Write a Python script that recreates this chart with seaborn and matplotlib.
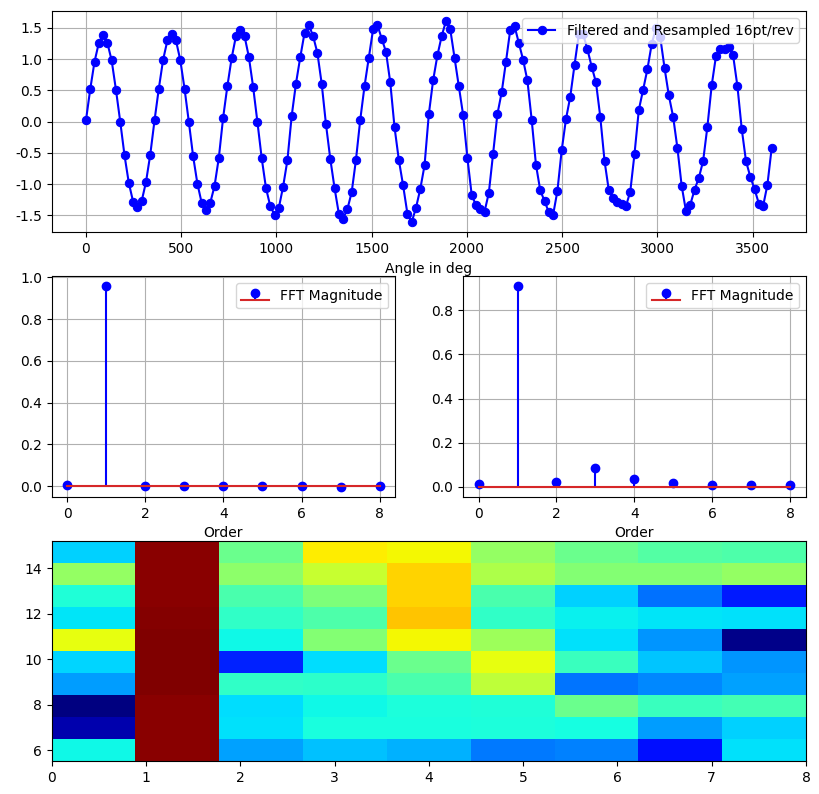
import numpy as np
import pandas as pd
import matplotlib
matplotlib.use("Agg")
import matplotlib.pyplot as plt
import seaborn as sns

plt.rcParams["axes.unicode_minus"] = False

# Resampled signal, 16 points per revolution (22.5 deg step), 10 revolutions
signal = [
    0.02, 0.52, 0.96, 1.26, 1.39, 1.26, 0.98, 0.51,
    0.00, -0.54, -0.98, -1.28, -1.37, -1.27, -0.97, -0.53,
    0.02, 0.53, 0.99, 1.30, 1.41, 1.30, 0.99, 0.53,
    0.00, -0.55, -0.99, -1.30, -1.41, -1.30, -1.03, -0.58,
    0.06, 0.57, 1.02, 1.37, 1.46, 1.37, 1.04, 0.56,
    0.00, -0.58, -1.06, -1.35, -1.49, -1.38, -1.04, -0.62,
    0.09, 0.61, 1.03, 1.42, 1.55, 1.37, 1.10, 0.61,
    -0.04, -0.59, -1.06, -1.47, -1.55, -1.40, -1.13, -0.61,
    0.03, 0.57, 1.02, 1.48, 1.55, 1.33, 1.12, 0.63,
    -0.09, -0.61, -1.02, -1.47, -1.61, -1.38, -1.08, -0.70,
    0.12, 0.66, 1.06, 1.37, 1.61, 1.48, 1.02, 0.57,
    0.11, -0.58, -1.17, -1.34, -1.40, -1.44, -1.14, -0.51,
    0.12, 0.47, 0.96, 1.47, 1.53, 1.26, 0.99, 0.66,
    0.03, -0.69, -1.10, -1.27, -1.45, -1.49, -1.11, -0.46,
    0.04, 0.40, 0.91, 1.40, 1.40, 1.16, 0.88, 0.63,
    0.08, -0.63, -1.10, -1.22, -1.28, -1.32, -1.35, -1.12,
    -0.51, 0.19, 0.51, 0.84, 1.24, 1.50, 1.35, 0.86,
    0.42, 0.08, -0.42, -1.03, -1.43, -1.33, -1.09, -0.90,
    -0.63, -0.08, 0.58, 1.05, 1.16, 1.16, 1.19, 1.06,
    0.57, -0.11, -0.63, -0.88, -1.08, -1.31, -1.35, -1.01,
    -0.42,
]
ANGLE_STEP = 22.5
angles = [i * ANGLE_STEP for i in range(len(signal))]

# FFT magnitude per order
orders = [0, 1, 2, 3, 4, 5, 6, 7, 8]
fft_left = [0.004, 0.957, 0.001, 0.0, 0.0, 0.0, 0.0, -0.004, 0.001]
fft_right = [0.012, 0.909, 0.021, 0.085, 0.035, 0.017, 0.011, 0.009, 0.009]

# order map: rows from bottom (6) to top (15), columns = orders 0..8
order_edges = np.linspace(0, 8, 10)
rev_edges = np.linspace(5.52, 15.19, 11)
level_rows = [
    [0.37, 0.99, 0.285, 0.315, 0.30, 0.245, 0.25, 0.14, 0.345],
    [0.04, 0.99, 0.345, 0.38, 0.38, 0.385, 0.375, 0.28, 0.33],
    [0.00, 0.99, 0.34, 0.37, 0.385, 0.39, 0.48, 0.42, 0.43],
    [0.28, 1.00, 0.41, 0.405, 0.44, 0.58, 0.24, 0.26, 0.285],
    [0.335, 1.00, 0.16, 0.34, 0.48, 0.63, 0.42, 0.32, 0.27],
    [0.63, 1.00, 0.37, 0.51, 0.645, 0.54, 0.345, 0.27, 0.01],
    [0.35, 0.995, 0.41, 0.445, 0.70, 0.41, 0.36, 0.35, 0.345],
    [0.39, 0.99, 0.44, 0.50, 0.685, 0.44, 0.33, 0.235, 0.15],
    [0.53, 0.99, 0.52, 0.59, 0.685, 0.56, 0.51, 0.51, 0.53],
    [0.33, 0.99, 0.48, 0.66, 0.645, 0.53, 0.48, 0.45, 0.445],
]


def main():
    fig = plt.figure(figsize=(8.2, 7.94), dpi=100)

    # Top: time signal over angle
    ax_sig = fig.add_axes([0.063, 0.7074, 0.9199, 0.2787])
    sig_df = pd.DataFrame({"angle": angles, "value": signal})
    sns.lineplot(
        data=sig_df, x="angle", y="value", ax=ax_sig,
        color="blue", marker="o", markersize=6, markeredgecolor="blue",
        linewidth=1.5, sort=False, errorbar=None,
        label="Filtered and Resampled 16pt/rev",
    )
    ax_sig.set_xlabel("Angle in deg")
    ax_sig.set_ylabel("")
    ax_sig.set_xticks([0, 500, 1000, 1500, 2000, 2500, 3000, 3500])
    ax_sig.set_yticks([-1.5, -1.0, -0.5, 0.0, 0.5, 1.0, 1.5])
    ax_sig.grid(True)
    ax_sig.legend(loc="upper right")

    # Middle: two FFT stem plots
    rects = [[0.063, 0.3741, 0.4190, 0.2780], [0.5646, 0.3741, 0.4180, 0.2780]]
    for rect, mags in zip(rects, [fft_left, fft_right]):
        ax = fig.add_axes(rect)
        ax.stem(orders, mags, linefmt="b-", markerfmt="bo", basefmt="C3-",
                label="FFT Magnitude")
        ax.set_xlabel("Order")
        ax.grid(True)
        ax.legend(loc="upper right")

    # Bottom: order map
    ax_map = fig.add_axes([0.063, 0.0416, 0.9199, 0.2767])
    ax_map.pcolormesh(order_edges, rev_edges, np.array(level_rows), cmap="jet")
    ax_map.set_xlim(0, 8)
    ax_map.set_ylim(rev_edges[0], rev_edges[-1])

    fig.savefig("out.png", dpi=100)


if __name__ == "__main__":
    main()
